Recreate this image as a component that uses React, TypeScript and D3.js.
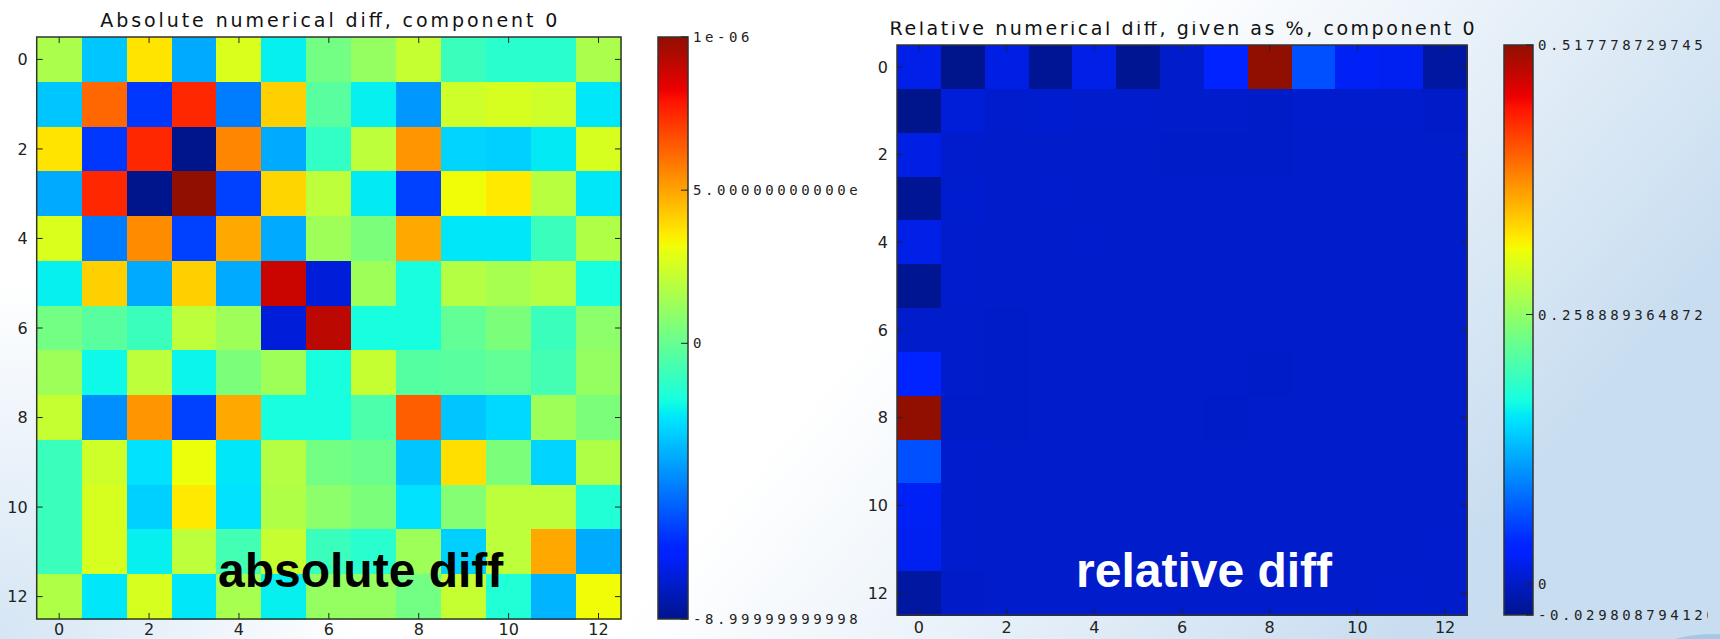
import React from 'react';
import * as d3 from 'd3';

const W = 1720;
const H = 639;

// ---------- categories / ticks ----------
const INDEX = [0, 1, 2, 3, 4, 5, 6, 7, 8, 9, 10, 11, 12];
const AXIS_TICKS = [0, 2, 4, 6, 8, 10, 12];

// ---------- absolute diff (values in units of 1e-7) ----------
const ABS_UNIT = 1e-7;
const ABS_R0 = [1.6, -3.1, 3.7, -3.7, 2.7, -2.2, 0.3, 1.1, 2.2, -1.0, -1.4, -1.4, 1.6];
const ABS_R1 = [-3.1, 6.2, -6.2, 7.5, -4.7, 4.1, -0.3, -2.2, -4.1, 2.4, 2.6, 2.4, -2.4];
const ABS_R2 = [3.7, -6.2, 7.5, -9.0, 5.6, -3.7, -1.2, 2.0, 5.3, -2.8, -2.9, -2.3, 2.6];
const ABS_R3 = [-3.7, 7.5, -9.0, 10.0, -6.0, 4.0, 2.0, -2.3, -6.0, 3.2, 3.6, 1.9, -2.4];
const ABS_R4 = [2.7, -4.7, 5.5, -6.0, 4.9, -3.7, 1.3, 0.5, 4.9, -2.4, -2.4, -1.0, 1.7];
const ABS_R5 = [-2.2, 4.1, -3.7, 4.1, -3.7, 8.9, -7.6, 1.3, -1.8, 1.8, 1.5, 1.8, -1.8];
const ABS_R6 = [0.3, -0.3, -1.0, 2.0, 1.3, -7.6, 9.2, -1.8, -1.8, -0.1, 0.5, -1.0, 0.9];
const ABS_R7 = [1.3, -2.0, 2.0, -2.1, 0.5, 1.3, -1.8, 2.2, -0.4, -0.3, -0.1, -0.8, 1.1];
const ABS_R8 = [2.2, -4.3, 5.3, -6.0, 4.9, -1.8, -1.8, -0.6, 6.4, -3.1, -2.7, 1.3, 0.5];
const ABS_R9 = [-1.0, 2.4, -2.5, 3.1, -2.4, 1.8, 0.3, 0.1, -3.1, 3.8, 0.5, -2.8, 1.7];
const ABS_R10 = [-1.0, 2.6, -2.9, 3.6, -2.5, 1.7, 0.9, 0.5, -2.5, 0.7, 2.0, 2.0, -1.6];
const ABS_R11 = [-1.0, 2.6, -2.2, 2.0, -0.8, 2.2, -1.0, -1.4, 1.3, -2.9, 2.0, 4.9, -3.7];
const ABS_R12 = [1.7, -2.4, 2.6, -2.4, 1.5, -2.2, 1.1, 1.1, 0.3, 2.2, -1.6, -3.5, 3.2];
const ABS_ROWS = [ABS_R0, ABS_R1, ABS_R2, ABS_R3, ABS_R4, ABS_R5, ABS_R6, ABS_R7, ABS_R8, ABS_R9, ABS_R10, ABS_R11, ABS_R12];
const ABS_MIN = -8.9999999998e-7;
const ABS_MAX = 1e-6;
const ABS_CB_TICKS = [1e-6, 5e-7, 0, -8.9999999998e-7];
const ABS_CB_LABELS = ['1e-06', '5.00000000000e-07', '0', '-8.99999999998e-07'];

// ---------- relative diff (%) ----------
const REL_R0 = [0.019, -0.0298, 0.016, -0.026, 0.018, -0.027, 0.003, 0.036, 0.5178, 0.066, 0.025, 0.023, -0.019];
const REL_R1 = [-0.0298, 0.010, 0.004, 0.005, 0.004, 0.004, 0.003, 0.003, 0.002, 0.004, 0.004, 0.004, 0.001];
const REL_R2 = [0.016, 0.004, 0.003, 0.003, 0.003, 0.003, 0.002, 0.002, 0.002, 0.003, 0.003, 0.003, 0.003];
const REL_R3 = [-0.026, 0.005, 0.003, 0.004, 0.003, 0.003, 0.003, 0.003, 0.003, 0.003, 0.003, 0.003, 0.003];
const REL_R4 = [0.018, 0.004, 0.003, 0.003, 0.004, 0.003, 0.003, 0.003, 0.003, 0.003, 0.003, 0.003, 0.003];
const REL_R5 = [-0.027, 0.004, 0.003, 0.003, 0.003, 0.003, 0.003, 0.003, 0.003, 0.003, 0.003, 0.003, 0.003];
const REL_R6 = [0.003, 0.003, 0.002, 0.003, 0.003, 0.003, 0.003, 0.003, 0.003, 0.003, 0.003, 0.003, 0.003];
const REL_R7 = [0.036, 0.003, 0.002, 0.003, 0.003, 0.003, 0.003, 0.003, 0.002, 0.003, 0.003, 0.003, 0.003];
const REL_R8 = [0.5178, 0.002, 0.002, 0.003, 0.003, 0.003, 0.003, 0.002, 0.003, 0.003, 0.003, 0.003, 0.003];
const REL_R9 = [0.066, 0.004, 0.003, 0.003, 0.003, 0.003, 0.003, 0.003, 0.003, 0.003, 0.003, 0.003, 0.003];
const REL_R10 = [0.025, 0.004, 0.003, 0.003, 0.003, 0.003, 0.003, 0.003, 0.003, 0.003, 0.003, 0.003, 0.003];
const REL_R11 = [0.023, 0.004, 0.003, 0.003, 0.003, 0.003, 0.003, 0.003, 0.003, 0.003, 0.003, 0.003, 0.004];
const REL_R12 = [-0.019, 0.001, 0.003, 0.003, 0.003, 0.003, 0.003, 0.003, 0.003, 0.003, 0.003, 0.004, 0.003];
const REL_ROWS = [REL_R0, REL_R1, REL_R2, REL_R3, REL_R4, REL_R5, REL_R6, REL_R7, REL_R8, REL_R9, REL_R10, REL_R11, REL_R12];
const REL_MIN = -0.02980879412;
const REL_MAX = 0.517778729745;
const REL_CB_TICKS = [0.517778729745, 0.258889364872, 0, -0.02980879412];
const REL_CB_LABELS = ['0.517778729745', '0.258889364872', '0', '-0.0298087941200'];

// ---------- jet colormap (segment data, slightly tinted like the source render) ----------
const JET_R = [[0, 0], [0.35, 0], [0.66, 1], [0.89, 1], [1, 0.565]];
const JET_G = [[0, 0.08], [0.125, 0.14], [0.375, 1], [0.64, 1], [0.91, 0], [1, 0.06]];
const JET_B = [[0, 0.55], [0.11, 1], [0.34, 1], [0.65, 0], [1, 0]];

const chan = (seg: number[][]) =>
  d3.scaleLinear().domain(seg.map((d) => d[0])).range(seg.map((d) => d[1])).clamp(true);
const jr = chan(JET_R);
const jg = chan(JET_G);
const jb = chan(JET_B);
const jet = (t: number) => d3.rgb(jr(t) * 255, jg(t) * 255, jb(t) * 255).formatHex();

type Box = { x0: number; x1: number; y0: number; y1: number };

function Panel(props: {
  id: string;
  rows: number[][];
  unit: number;
  vmin: number;
  vmax: number;
  cbTicks: number[];
  cbLabels: string[];
  title: string;
  titleWidth: number;
  titleBaseline: number;
  plot: Box;
  cbar: Box;
  overlay: string;
  overlayX: number;
  overlayColor: string;
  clip: Box;
}) {
  const { id, rows, unit, vmin, vmax, cbTicks, cbLabels, title, titleWidth, titleBaseline, plot, cbar, overlay, overlayX, overlayColor, clip } = props;
  const x = d3.scaleBand<number>().domain(INDEX).range([plot.x0, plot.x1]);
  const y = d3.scaleBand<number>().domain(INDEX).range([plot.y0, plot.y1]);
  const norm = d3.scaleLinear().domain([vmin, vmax]).range([0, 1]).clamp(true);
  const cbY = d3.scaleLinear().domain([vmin, vmax]).range([cbar.y1, cbar.y0]);
  const bw = x.bandwidth();
  const bh = y.bandwidth();
  const stops = d3.range(0, 1.0001, 0.01);
  const tickLen = 6;
  const axisColor = '#222';

  return (
    <g>
      <defs>
        <linearGradient id={`cb-${id}`} x1="0" y1="1" x2="0" y2="0">
          {stops.map((t) => (
            <stop key={t} offset={`${t * 100}%`} stopColor={jet(t)} />
          ))}
        </linearGradient>
        <clipPath id={`clip-${id}`}>
          <rect x={clip.x0} y={clip.y0} width={clip.x1 - clip.x0} height={clip.y1 - clip.y0} />
        </clipPath>
      </defs>
      <g clipPath={`url(#clip-${id})`}>
        <text
          x={(plot.x0 + plot.x1) / 2}
          y={titleBaseline}
          textAnchor="middle"
          fontFamily="DejaVu Sans"
          fontSize={19}
          fill="#111"
          textLength={titleWidth}
          lengthAdjust="spacing"
        >
          {title}
        </text>
        {/* cells */}
        <g shapeRendering="crispEdges">
          {rows.map((row, i) =>
            row.map((v, j) => (
              <rect
                key={`${i}-${j}`}
                x={x(j)}
                y={y(i)}
                width={bw + 0.6}
                height={bh + 0.6}
                fill={jet(norm(v * unit))}
              />
            ))
          )}
        </g>
        {/* ticks */}
        {AXIS_TICKS.map((t) => {
          const cx = (x(t) as number) + bw / 2;
          const cy = (y(t) as number) + bh / 2;
          return (
            <g key={t} stroke={axisColor} strokeWidth={1}>
              <line x1={cx} x2={cx} y1={plot.y1} y2={plot.y1 - tickLen} />
              <line x1={cx} x2={cx} y1={plot.y0} y2={plot.y0 + tickLen} />
              <line x1={plot.x0} x2={plot.x0 + tickLen} y1={cy} y2={cy} />
              <line x1={plot.x1} x2={plot.x1 - tickLen} y1={cy} y2={cy} />
            </g>
          );
        })}
        <rect
          x={plot.x0}
          y={plot.y0}
          width={plot.x1 - plot.x0}
          height={plot.y1 - plot.y0}
          fill="none"
          stroke="#333"
          strokeWidth={1.5}
        />
        {AXIS_TICKS.map((t) => (
          <text
            key={`yl${t}`}
            x={plot.x0 - 9}
            y={(y(t) as number) + bh / 2}
            dy="0.36em"
            textAnchor="end"
            fontFamily="DejaVu Sans"
            fontSize={16}
            fill="#222"
          >
            {t}
          </text>
        ))}
        {AXIS_TICKS.map((t) => (
          <text
            key={`xl${t}`}
            x={(x(t) as number) + bw / 2}
            y={Math.min(plot.y1 + 18, 635)}
            textAnchor="middle"
            fontFamily="DejaVu Sans"
            fontSize={16}
            fill="#222"
          >
            {t}
          </text>
        ))}
        {/* colorbar */}
        <rect
          x={cbar.x0}
          y={cbar.y0}
          width={cbar.x1 - cbar.x0}
          height={cbar.y1 - cbar.y0}
          fill={`url(#cb-${id})`}
          stroke="#333"
          strokeWidth={1.5}
        />
        {cbTicks.map((t, k) => (
          <g key={`cb${k}`}>
            <line x1={cbar.x1} x2={cbar.x1 - 7} y1={cbY(t)} y2={cbY(t)} stroke="#222" strokeWidth={1} />
            <text
              x={cbar.x1 + 5}
              y={cbY(t)}
              dy="0.36em"
              fontFamily="DejaVu Sans Mono"
              fontSize={14}
              letterSpacing={3.6}
              fill="#222"
            >
              {cbLabels[k]}
            </text>
          </g>
        ))}
      </g>
      <text
        x={overlayX}
        y={587}
        fontFamily="Liberation Sans, Arial, sans-serif"
        fontWeight="bold"
        fontSize={48}
        fill={overlayColor}
      >
        {overlay}
      </text>
    </g>
  );
}

export default function App() {
  return (
    <svg
      width={W}
      height={H}
      viewBox={`0 0 ${W} ${H}`}
      style={{ position: 'absolute', left: 0, top: 0, display: 'block' }}
    >
      <defs>
        <linearGradient id="bgDiag" gradientUnits="userSpaceOnUse" x1={600} y1={150} x2={1300} y2={750}>
          <stop offset="0.35" stopColor="#cfe1f2" stopOpacity={0} />
          <stop offset="1" stopColor="#c8ddf0" stopOpacity={1} />
        </linearGradient>
        <radialGradient id="bgLeft" gradientUnits="userSpaceOnUse" cx={0} cy={639} r={360}>
          <stop offset="0" stopColor="#d3e4f4" stopOpacity={0.95} />
          <stop offset="1" stopColor="#d3e4f4" stopOpacity={0} />
        </radialGradient>
      </defs>
      <rect x={0} y={0} width={W} height={H} fill="#ffffff" />
      <rect x={0} y={0} width={W} height={H} fill="url(#bgDiag)" />
      <rect x={0} y={0} width={W} height={H} fill="url(#bgLeft)" />
      <ellipse cx={1712} cy={656} rx={58} ry={22} fill="#a4c8e8" />

      <Panel
        id="abs"
        rows={ABS_ROWS}
        unit={ABS_UNIT}
        vmin={ABS_MIN}
        vmax={ABS_MAX}
        cbTicks={ABS_CB_TICKS}
        cbLabels={ABS_CB_LABELS}
        title="Absolute numerical diff, component 0"
        titleWidth={457}
        titleBaseline={27}
        plot={{ x0: 36.7, x1: 621, y0: 37, y1: 619 }}
        cbar={{ x0: 658, x1: 688, y0: 37, y1: 619 }}
        overlay="absolute diff"
        overlayX={218}
        overlayColor="#000"
        clip={{ x0: 0, x1: 862, y0: 0, y1: 639 }}
      />
      <Panel
        id="rel"
        rows={REL_ROWS}
        unit={1}
        vmin={REL_MIN}
        vmax={REL_MAX}
        cbTicks={REL_CB_TICKS}
        cbLabels={REL_CB_LABELS}
        title="Relative numerical diff, given as %, component 0"
        titleWidth={585}
        titleBaseline={35}
        plot={{ x0: 897, x1: 1467, y0: 45, y1: 615 }}
        cbar={{ x0: 1504, x1: 1533, y0: 45, y1: 615 }}
        overlay="relative diff"
        overlayX={1076}
        overlayColor="#fff"
        clip={{ x0: 820, x1: 1708, y0: 21.5, y1: 639 }}
      />
    </svg>
  );
}
